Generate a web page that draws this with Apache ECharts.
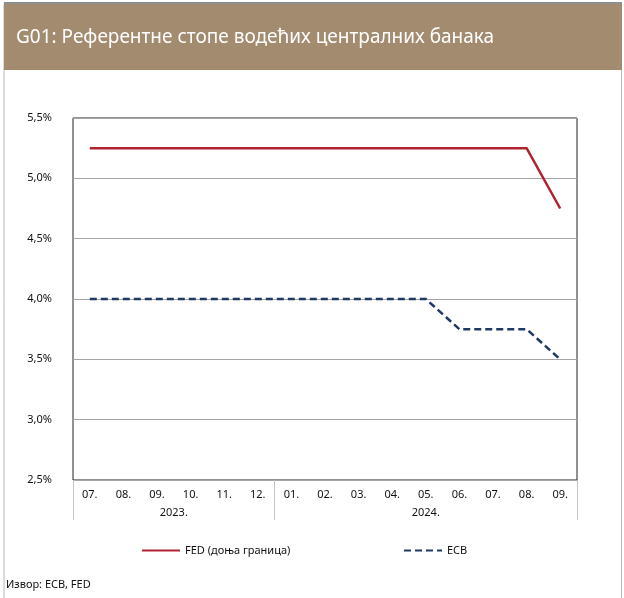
<!DOCTYPE html>
<html>
<head>
<meta charset="utf-8">
<script src="https://cdn.jsdelivr.net/npm/echarts@6/dist/echarts.min.js"></script>
<style>
  html, body { margin: 0; padding: 0; background: #fff; }
  #main { width: 624px; height: 598px; }
</style>
</head>
<body>
<div id="main"></div>
<script>
// months shown on the axis and the year each one belongs to
var months = ['07.', '08.', '09.', '10.', '11.', '12.', '01.', '02.', '03.', '04.', '05.', '06.', '07.', '08.', '09.'];
var monthYear = ['2023.', '2023.', '2023.', '2023.', '2023.', '2023.',
  '2024.', '2024.', '2024.', '2024.', '2024.', '2024.', '2024.', '2024.', '2024.'];
var fedLower = [5.25, 5.25, 5.25, 5.25, 5.25, 5.25, 5.25, 5.25, 5.25, 5.25, 5.25, 5.25, 5.25, 5.25, 4.75];
var ecbRate = [4.00, 4.00, 4.00, 4.00, 4.00, 4.00, 4.00, 4.00, 4.00, 4.00, 4.00, 3.75, 3.75, 3.75, 3.50];

var fedName = 'FED (доња граница)';
var ecbName = 'ECB';

// group the months by year: boundaries and centres on a 0..n scale
var yearBounds = [0];
var yearMid = {};
var start = 0;
for (var i = 1; i <= monthYear.length; i++) {
  if (i === monthYear.length || monthYear[i] !== monthYear[start]) {
    yearBounds.push(i);
    yearMid[(start + i) / 2] = monthYear[start];
    start = i;
  }
}
var yearCenters = Object.keys(yearMid).map(Number);

var font = 'Noto Sans';
var chart = echarts.init(document.getElementById('main'));

var legendBase = {
  top: 540,
  itemWidth: 38,
  itemHeight: 12,
  itemGap: 6,
  itemStyle: { opacity: 0 },
  textStyle: { fontSize: 11, color: '#111', fontFamily: font }
};

var option = {
  animation: false,
  textStyle: { fontFamily: font },
  graphic: [
    {
      type: 'rect',
      shape: { x: 4, y: 3.5, width: 617.5, height: 600 },
      style: { fill: 'none', stroke: '#b8b8b8', lineWidth: 1 },
      silent: true
    },
    {
      type: 'rect',
      shape: { x: 4, y: 3, width: 618, height: 67 },
      style: { fill: '#a38b70' },
      silent: true
    },
    {
      type: 'rect',
      shape: { x: 4, y: 2, width: 618, height: 2 },
      style: { fill: '#8e8e8e' },
      silent: true
    },
    {
      type: 'text',
      left: 16,
      top: 28,
      style: {
        text: 'G01: Референтне стопе водећих централних банака',
        fill: '#fff',
        font: '19px "Liberation Sans Narrow", "Noto Sans", sans-serif'
      }
    },
    {
      type: 'text',
      left: 6,
      top: 579,
      style: {
        text: 'Извор: ECB, FED',
        fill: '#111',
        font: '11px "Noto Sans", sans-serif'
      }
    }
  ],
  legend: [
    Object.assign({ data: [fedName], left: 136 }, legendBase),
    Object.assign({ data: [ecbName], left: 398 }, legendBase)
  ],
  grid: {
    left: 73,
    right: 47,
    top: 118,
    bottom: 118,
    show: true,
    borderColor: '#222',
    borderWidth: 1
  },
  xAxis: [
    {
      type: 'category',
      data: months,
      boundaryGap: true,
      axisLine: { show: false },
      axisTick: { show: false },
      axisLabel: { color: '#111', fontSize: 11, margin: 9, interval: 0 },
      splitLine: { show: false }
    },
    {
      type: 'value',
      position: 'bottom',
      min: 0,
      max: months.length,
      axisLine: { show: false },
      splitLine: { show: false },
      axisTick: {
        show: true,
        customValues: yearBounds,
        length: 40,
        lineStyle: { color: '#c4c4c4', width: 1 }
      },
      axisLabel: {
        show: true,
        customValues: yearCenters,
        color: '#111',
        fontSize: 11,
        margin: 27,
        formatter: function (v) { return yearMid[v] || ''; }
      }
    }
  ],
  yAxis: {
    type: 'value',
    min: 2.5,
    max: 5.5,
    interval: 0.5,
    axisLine: { show: false },
    axisTick: { show: false },
    axisLabel: {
      color: '#111',
      fontSize: 11,
      margin: 21,
      formatter: function (v) { return v.toFixed(1).replace('.', ',') + '%'; }
    },
    splitLine: { show: true, lineStyle: { color: '#a6a6a6', width: 1 } }
  },
  series: [
    {
      name: fedName,
      type: 'line',
      data: fedLower,
      symbol: 'none',
      lineStyle: { color: '#b02230', width: 2.5 },
      itemStyle: { color: '#b02230' }
    },
    {
      name: ecbName,
      type: 'line',
      data: ecbRate,
      symbol: 'none',
      lineStyle: { color: '#1f3864', width: 2.5, type: [7, 4] },
      itemStyle: { color: '#1f3864' }
    }
  ]
};

chart.setOption(option);
</script>
</body>
</html>
